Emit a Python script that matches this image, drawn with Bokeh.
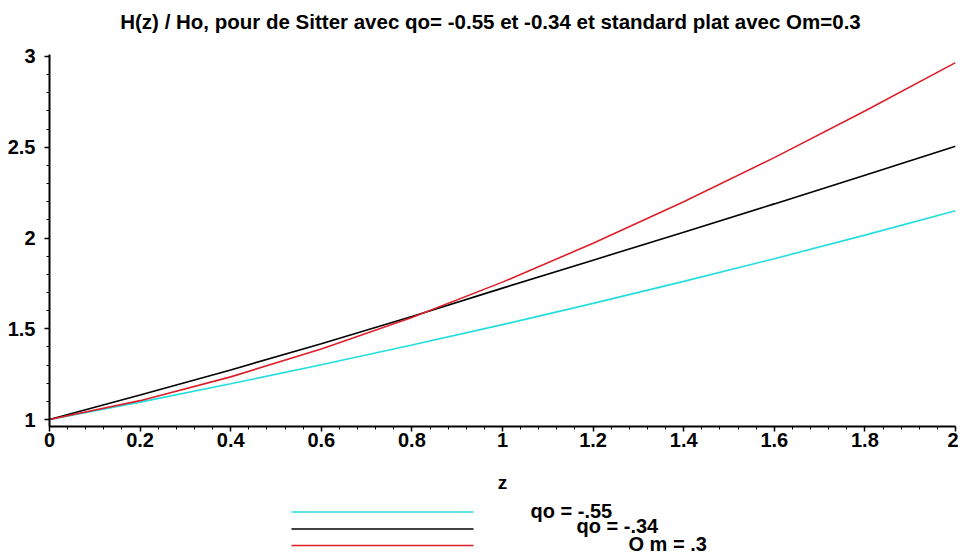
import numpy as np
from bokeh.plotting import figure
from bokeh.layouts import column
from bokeh.models import Range1d, FixedTicker, ColumnDataSource
from bokeh.core.properties import value
from bokeh.embed import file_html
from bokeh.resources import INLINE

# ---- data ----
z = [0.0, 0.2, 0.4, 0.6, 0.8, 1.0, 1.2, 1.4, 1.6, 1.8, 2.0]
h_q055 = [1.0, 1.096, 1.197, 1.302, 1.411, 1.523, 1.640, 1.761, 1.886, 2.016, 2.15]
h_q034 = [1.0, 1.135, 1.273, 1.418, 1.568, 1.724, 1.878, 2.032, 2.188, 2.346, 2.505]
h_om03 = [1.0, 1.104, 1.235, 1.389, 1.562, 1.757, 1.971, 2.200, 2.443, 2.700, 2.966]

series_names = ["qo = -.55", "qo = -.34", "O m = .3"]
series_colors = ["#22dede", "#000000", "#dd1f2a"]

x_ticks = [0.0, 0.2, 0.4, 0.6, 0.8, 1.0, 1.2, 1.4, 1.6, 1.8, 2.0]
x_tick_labels = ["0", "0.2", "0.4", "0.6", "0.8", "1", "1.2", "1.4", "1.6", "1.8", "2"]
y_ticks = [1.0, 1.5, 2.0, 2.5, 3.0]
y_tick_labels = ["1", "1.5", "2", "2.5", "3"]

title_text = "H(z) / Ho, pour de Sitter avec qo= -0.55 et -0.34 et standard plat avec Om=0.3"
x_label = "z"

FONT = "Liberation Sans"


def strip(height, y_top, y_bottom):
    f = figure(width=958, height=height, output_backend="svg", toolbar_location=None,
               x_range=Range1d(49, 955), y_range=Range1d(y_bottom, y_top),
               min_border_left=49, min_border_right=3, min_border_top=0,
               min_border_bottom=0)
    f.axis.visible = False
    f.xgrid.visible = False
    f.ygrid.visible = False
    f.outline_line_color = None
    f.background_fill_color = "white"
    f.border_fill_color = "white"
    return f


# ---- title strip (coordinates are page pixels) ----
top = strip(40, 0, 40)
top.text([490], [21], text=[title_text], text_font=value(FONT),
         text_font_style="bold", text_font_size="20.5px",
         text_baseline="middle", text_align="center", text_color="black")

# ---- main figure ----
p = figure(width=958, height=455, output_backend="svg", toolbar_location=None,
           x_range=Range1d(0, 2), y_range=Range1d(0.9616, 3.011),
           min_border_left=49, min_border_right=3, min_border_top=14,
           min_border_bottom=67)
p.outline_line_color = None
p.background_fill_color = "white"
p.border_fill_color = "white"
p.xgrid.visible = False
p.ygrid.visible = False

src = ColumnDataSource(dict(z=z, a=h_q055, b=h_q034, c=h_om03))
for col, colr in zip(["a", "b", "c"], series_colors):
    p.line("z", col, source=src, line_color=colr, line_width=1.6)

x_minor = list(np.round(np.arange(0, 2.0001, 0.04), 2))
y_minor = list(np.round(np.arange(1.0, 3.0001, 0.1), 2))

p.xaxis.ticker = FixedTicker(ticks=x_ticks, minor_ticks=x_minor)
p.yaxis.ticker = FixedTicker(ticks=y_ticks, minor_ticks=y_minor)
p.xaxis.major_label_overrides = {t: l for t, l in zip(x_ticks, x_tick_labels)}
p.yaxis.major_label_overrides = {t: l for t, l in zip(y_ticks, y_tick_labels)}

for ax in (p.xaxis, p.yaxis):
    ax.axis_line_color = "black"
    ax.axis_line_width = 2
    ax.major_tick_line_color = "black"
    ax.minor_tick_line_color = "black"
    ax.major_tick_line_width = 1.5
    ax.minor_tick_line_width = 1
    ax.major_tick_in = 0
    ax.major_tick_out = 5
    ax.minor_tick_in = 0
    ax.minor_tick_out = 3
    ax.major_label_text_font = FONT
    ax.major_label_text_font_style = "bold"
    ax.major_label_text_font_size = "20px"
    ax.major_label_text_color = "black"

p.xaxis.major_label_standoff = 1
p.yaxis.major_label_standoff = 9
p.xaxis.axis_label = x_label
p.xaxis.axis_label_text_font = FONT
p.xaxis.axis_label_text_font_style = "bold"
p.xaxis.axis_label_text_font_size = "19px"
p.xaxis.axis_label_text_color = "black"
p.xaxis.axis_label_standoff = 22

# ---- legend strip (coordinates are page pixels) ----
lg = strip(59, 495, 554)
row_y = [511.5, 528.5, 545]
text_y = [510, 525, 543]
text_x = [530, 576, 628]
for i, (name, colr) in enumerate(zip(series_names, series_colors)):
    lg.line([291, 473], [row_y[i], row_y[i]], line_color=colr, line_width=1.6)
    lg.text([text_x[i]], [text_y[i]], text=[name], text_font=value(FONT),
            text_font_style="bold", text_font_size="20px",
            text_baseline="middle", text_align="left", text_color="black")

layout = column(top, p, lg, spacing=0)
open("out.html", "w").write(file_html(layout, INLINE))
